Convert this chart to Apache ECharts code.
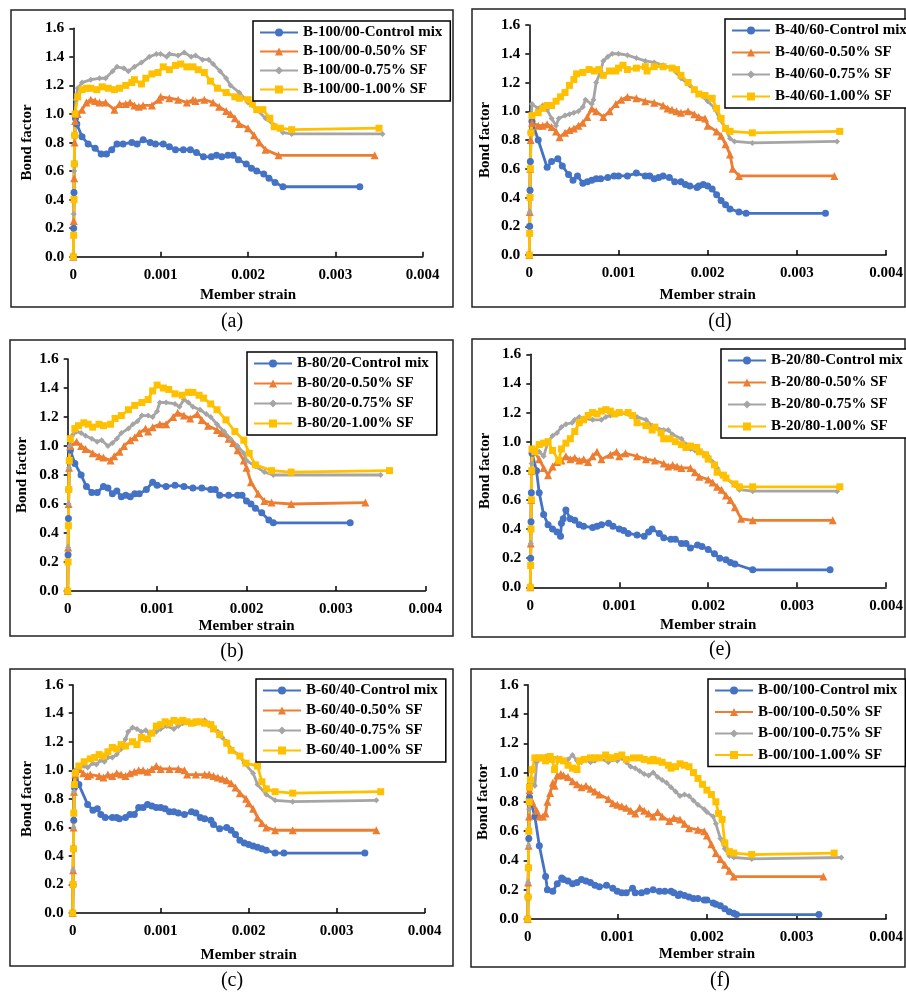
<!DOCTYPE html>
<html>
<head>
<meta charset="utf-8">
<script src="https://cdn.jsdelivr.net/npm/echarts@6/dist/echarts.min.js"></script>
<style>
  html, body { margin: 0; padding: 0; background: #fff; }
  #chart { width: 906px; height: 993px; }
</style>
</head>
<body>
<div id="chart"></div>
<script>
// panel tags and mix names, in panel order a..f
var panelTags = ['(a)', '(b)', '(c)', '(d)', '(e)', '(f)'];
var mixNames = ['B-100/00', 'B-80/20', 'B-60/40', 'B-40/60', 'B-20/80', 'B-00/100'];
var mixSuffix = ['-Control mix', '-0.50% SF', '-0.75% SF', '-1.00% SF'];
var xTicks = [0, 0.001, 0.002, 0.003, 0.004];
var yTicks = [0, 0.2, 0.4, 0.6, 0.8, 1.0, 1.2, 1.4, 1.6];

// (a) B-100/00
var a_ctrl = [[0,0],[0.000004,0.2],[0.000008,0.45],[0.000012,0.65],[0.000018,0.85],[0.000025,0.97],[0.00004,0.93],[0.0001,0.84],[0.00017,0.79],[0.00025,0.76],[0.00032,0.72],[0.00038,0.72],[0.00044,0.75],[0.0005,0.79],[0.00057,0.79],[0.00067,0.80],[0.00073,0.79],[0.0008,0.82],[0.00088,0.80],[0.00094,0.79],[0.00103,0.79],[0.0011,0.77],[0.00117,0.75],[0.00126,0.75],[0.00134,0.75],[0.00141,0.73],[0.00149,0.70],[0.00158,0.70],[0.00164,0.71],[0.0017,0.70],[0.00177,0.71],[0.00183,0.71],[0.00189,0.68],[0.00198,0.65],[0.00204,0.62],[0.0021,0.60],[0.00218,0.58],[0.00224,0.55],[0.00231,0.52],[0.0024,0.49],[0.00328,0.49]];
var a_sf050 = [[0,0],[0.000005,0.25],[0.00001,0.55],[0.000015,0.8],[0.00002,0.95],[0.00005,1.0],[0.0001,1.03],[0.00015,1.08],[0.0002,1.10],[0.00025,1.09],[0.0003,1.08],[0.00037,1.08],[0.00047,1.03],[0.00053,1.07],[0.0006,1.07],[0.00065,1.08],[0.0007,1.06],[0.00075,1.05],[0.0008,1.06],[0.0009,1.06],[0.00098,1.10],[0.001,1.12],[0.0011,1.11],[0.0012,1.10],[0.0013,1.08],[0.00137,1.10],[0.0014,1.09],[0.0015,1.10],[0.0016,1.08],[0.00167,1.05],[0.00175,1.02],[0.0018,1.00],[0.00185,0.97],[0.0019,0.93],[0.002,0.90],[0.00207,0.85],[0.00213,0.80],[0.0022,0.75],[0.00235,0.71],[0.00345,0.71]];
var a_sf075 = [[0,0],[0.000005,0.3],[0.00001,0.6],[0.000015,0.85],[0.00002,1.0],[0.00003,1.1],[0.00005,1.18],[0.0001,1.22],[0.0002,1.24],[0.0003,1.25],[0.00037,1.25],[0.00045,1.30],[0.0005,1.33],[0.00058,1.32],[0.00063,1.30],[0.0007,1.33],[0.00078,1.36],[0.00087,1.40],[0.00095,1.42],[0.001,1.42],[0.00107,1.40],[0.0011,1.42],[0.0012,1.41],[0.00127,1.43],[0.00135,1.40],[0.0014,1.41],[0.00148,1.38],[0.00155,1.38],[0.0016,1.35],[0.00168,1.30],[0.00175,1.25],[0.0018,1.20],[0.0019,1.15],[0.002,1.08],[0.0021,1.03],[0.0022,0.97],[0.0023,0.92],[0.0024,0.87],[0.0025,0.86],[0.00354,0.86]];
var a_sf100 = [[0,0],[0.000004,0.15],[0.000008,0.4],[0.000012,0.65],[0.000016,0.85],[0.00002,1.0],[0.00005,1.12],[0.0001,1.17],[0.00015,1.18],[0.0002,1.18],[0.00027,1.17],[0.00033,1.19],[0.0004,1.18],[0.00047,1.17],[0.00053,1.18],[0.0006,1.20],[0.00067,1.22],[0.0007,1.24],[0.00078,1.21],[0.00083,1.25],[0.0009,1.28],[0.00097,1.29],[0.00103,1.33],[0.0011,1.31],[0.00117,1.34],[0.00123,1.35],[0.0013,1.33],[0.00137,1.33],[0.00143,1.31],[0.0015,1.29],[0.00157,1.23],[0.00165,1.18],[0.00175,1.15],[0.00185,1.12],[0.0019,1.11],[0.002,1.10],[0.00205,1.07],[0.0021,1.03],[0.00217,1.03],[0.00225,0.97],[0.0023,0.91],[0.00237,0.90],[0.0025,0.89],[0.0035,0.90]];

// (b) B-80/20
var b_ctrl = [[0,0],[0.000004,0.25],[0.000008,0.5],[0.000012,0.7],[0.00002,0.9],[0.00003,0.97],[0.00008,0.88],[0.00015,0.80],[0.00021,0.72],[0.00027,0.68],[0.00033,0.68],[0.0004,0.72],[0.00045,0.71],[0.0005,0.67],[0.00055,0.69],[0.0006,0.65],[0.00065,0.66],[0.0007,0.65],[0.00075,0.67],[0.0008,0.67],[0.00088,0.70],[0.00095,0.75],[0.001,0.73],[0.0011,0.72],[0.0012,0.73],[0.0013,0.72],[0.0014,0.71],[0.0015,0.71],[0.0016,0.70],[0.00165,0.70],[0.0017,0.66],[0.0018,0.66],[0.0019,0.66],[0.00195,0.66],[0.002,0.62],[0.00205,0.60],[0.0021,0.57],[0.00217,0.54],[0.00225,0.49],[0.0023,0.47],[0.00316,0.47]];
var b_sf050 = [[0,0],[0.000005,0.3],[0.00001,0.6],[0.000015,0.85],[0.00003,1.0],[0.0001,1.03],[0.00015,1.00],[0.0002,0.98],[0.00028,0.95],[0.00035,0.93],[0.0004,0.92],[0.00048,0.90],[0.00052,0.93],[0.00058,0.96],[0.00063,1.00],[0.0007,1.04],[0.00075,1.06],[0.0008,1.09],[0.00087,1.12],[0.0009,1.10],[0.00095,1.13],[0.00103,1.15],[0.0011,1.15],[0.00118,1.20],[0.00123,1.23],[0.0013,1.21],[0.00137,1.19],[0.00145,1.22],[0.0015,1.18],[0.00157,1.14],[0.00167,1.11],[0.00172,1.09],[0.0018,1.05],[0.00185,1.02],[0.0019,0.97],[0.00197,0.90],[0.002,0.85],[0.00205,0.75],[0.00213,0.67],[0.0022,0.62],[0.00228,0.61],[0.0025,0.60],[0.00333,0.61]];
var b_sf075 = [[0,0],[0.000005,0.3],[0.00001,0.6],[0.000015,0.85],[0.00002,1.0],[0.00005,1.07],[0.0001,1.10],[0.00015,1.09],[0.0002,1.07],[0.00027,1.05],[0.00033,1.03],[0.00038,1.04],[0.00045,1.00],[0.0005,1.02],[0.00055,1.05],[0.0006,1.09],[0.00068,1.12],[0.00073,1.15],[0.00078,1.17],[0.00083,1.21],[0.0009,1.21],[0.00095,1.20],[0.001,1.24],[0.00103,1.30],[0.0011,1.30],[0.0012,1.29],[0.00125,1.27],[0.0013,1.32],[0.00135,1.30],[0.0014,1.27],[0.00148,1.25],[0.00155,1.22],[0.0016,1.20],[0.00167,1.15],[0.00175,1.10],[0.00182,1.05],[0.0019,1.00],[0.00197,0.95],[0.002,0.90],[0.0021,0.86],[0.0022,0.82],[0.0023,0.80],[0.0035,0.80]];
var b_sf100 = [[0,0],[0.000004,0.2],[0.000008,0.45],[0.000012,0.7],[0.000018,0.9],[0.00003,1.05],[0.00008,1.12],[0.00012,1.14],[0.00018,1.16],[0.00023,1.15],[0.00028,1.13],[0.00035,1.15],[0.0004,1.14],[0.00048,1.15],[0.00053,1.19],[0.0006,1.21],[0.00068,1.25],[0.00075,1.28],[0.00083,1.30],[0.0009,1.32],[0.00095,1.38],[0.001,1.42],[0.00107,1.40],[0.00113,1.39],[0.0012,1.36],[0.00128,1.35],[0.00135,1.37],[0.0014,1.37],[0.00147,1.35],[0.00152,1.33],[0.0016,1.29],[0.00167,1.25],[0.00177,1.18],[0.00187,1.10],[0.00197,1.04],[0.00203,0.95],[0.0021,0.87],[0.00228,0.83],[0.0025,0.82],[0.0036,0.83]];

// (c) B-60/40
var c_ctrl = [[0,0],[0.000004,0.2],[0.000008,0.45],[0.000012,0.65],[0.00002,0.88],[0.00003,0.98],[0.00007,0.90],[0.00017,0.76],[0.00023,0.72],[0.00028,0.73],[0.00032,0.69],[0.00037,0.67],[0.00045,0.67],[0.0005,0.67],[0.00053,0.66],[0.0006,0.67],[0.00065,0.69],[0.0007,0.69],[0.00075,0.74],[0.0008,0.74],[0.00085,0.76],[0.0009,0.75],[0.00095,0.74],[0.001,0.74],[0.00105,0.73],[0.0011,0.71],[0.00115,0.71],[0.0012,0.70],[0.00127,0.69],[0.00135,0.71],[0.0014,0.70],[0.00145,0.67],[0.0015,0.66],[0.00157,0.65],[0.0016,0.62],[0.00167,0.59],[0.00175,0.60],[0.0018,0.58],[0.00185,0.55],[0.0019,0.51],[0.00195,0.49],[0.002,0.48],[0.00205,0.47],[0.0021,0.46],[0.00215,0.45],[0.0022,0.44],[0.0023,0.42],[0.0024,0.42],[0.00332,0.42]];
var c_sf050 = [[0,0],[0.000005,0.3],[0.00001,0.6],[0.000015,0.85],[0.00003,0.97],[0.00007,1.01],[0.00012,0.98],[0.00017,0.96],[0.0002,0.97],[0.0003,0.96],[0.00035,0.95],[0.0004,0.97],[0.00045,0.96],[0.0005,0.98],[0.00055,0.97],[0.0006,0.96],[0.00065,0.98],[0.0007,0.99],[0.00075,1.00],[0.0008,1.00],[0.00085,0.99],[0.0009,1.01],[0.00095,1.03],[0.001,1.01],[0.0011,1.01],[0.0012,1.01],[0.00127,1.00],[0.0013,0.97],[0.0014,0.97],[0.0015,0.97],[0.00155,0.97],[0.0016,0.96],[0.00165,0.95],[0.0017,0.94],[0.00175,0.93],[0.0018,0.91],[0.00185,0.88],[0.0019,0.84],[0.00197,0.80],[0.002,0.77],[0.00205,0.73],[0.0021,0.67],[0.00215,0.63],[0.0022,0.60],[0.0023,0.58],[0.0025,0.58],[0.00345,0.58]];
var c_sf075 = [[0,0],[0.000005,0.3],[0.00001,0.6],[0.000015,0.85],[0.00003,1.0],[0.00008,1.02],[0.00013,1.03],[0.00017,1.02],[0.00023,1.05],[0.00027,1.04],[0.00032,1.07],[0.00036,1.06],[0.0004,1.09],[0.00045,1.09],[0.0005,1.11],[0.00055,1.15],[0.0006,1.22],[0.00063,1.27],[0.00068,1.30],[0.00073,1.29],[0.00078,1.27],[0.00083,1.28],[0.00088,1.25],[0.00095,1.27],[0.001,1.29],[0.00107,1.31],[0.00115,1.29],[0.0012,1.31],[0.00125,1.33],[0.0013,1.34],[0.0014,1.33],[0.0015,1.35],[0.00155,1.33],[0.0016,1.30],[0.00165,1.27],[0.0017,1.23],[0.00175,1.20],[0.0018,1.15],[0.0019,1.10],[0.00195,1.05],[0.00205,0.98],[0.0021,0.90],[0.0022,0.83],[0.0023,0.79],[0.0025,0.78],[0.00345,0.79]];
var c_sf100 = [[0,0],[0.000004,0.2],[0.000008,0.45],[0.000012,0.7],[0.00002,0.9],[0.00003,0.98],[0.00007,1.03],[0.00013,1.06],[0.0002,1.08],[0.00025,1.09],[0.0003,1.11],[0.00035,1.10],[0.0004,1.13],[0.00045,1.16],[0.0005,1.15],[0.00055,1.18],[0.0006,1.17],[0.00068,1.20],[0.00073,1.18],[0.00078,1.23],[0.00085,1.22],[0.0009,1.26],[0.00095,1.31],[0.001,1.32],[0.00105,1.34],[0.0011,1.33],[0.00115,1.35],[0.0012,1.34],[0.00125,1.35],[0.0013,1.34],[0.00135,1.33],[0.0014,1.34],[0.00145,1.34],[0.0015,1.33],[0.00157,1.32],[0.0016,1.29],[0.00167,1.25],[0.00175,1.19],[0.0018,1.14],[0.0019,1.10],[0.00197,1.05],[0.0021,1.03],[0.00215,0.92],[0.0022,0.87],[0.0023,0.85],[0.0025,0.84],[0.0035,0.85]];

// (d) B-40/60
var d_ctrl = [[0,0],[0.000004,0.2],[0.000008,0.45],[0.000012,0.65],[0.00002,0.85],[0.00003,0.93],[0.0001,0.80],[0.0002,0.61],[0.00025,0.65],[0.00032,0.67],[0.00037,0.62],[0.00044,0.56],[0.00049,0.52],[0.00054,0.55],[0.0006,0.50],[0.00065,0.51],[0.0007,0.52],[0.00075,0.53],[0.0008,0.53],[0.00088,0.54],[0.00095,0.55],[0.001,0.55],[0.0011,0.55],[0.0012,0.57],[0.0013,0.55],[0.00135,0.55],[0.0014,0.53],[0.00145,0.54],[0.0015,0.55],[0.00157,0.54],[0.00163,0.51],[0.0017,0.51],[0.00175,0.49],[0.0018,0.48],[0.00188,0.47],[0.0019,0.48],[0.00195,0.49],[0.002,0.48],[0.00205,0.46],[0.0021,0.42],[0.00215,0.38],[0.0022,0.35],[0.00225,0.32],[0.00235,0.30],[0.00243,0.29],[0.00332,0.29]];
var d_sf050 = [[0,0],[0.000005,0.3],[0.00001,0.6],[0.000015,0.8],[0.00003,0.92],[0.0001,0.90],[0.00015,0.90],[0.0002,0.91],[0.00025,0.89],[0.0003,0.86],[0.00034,0.82],[0.0004,0.85],[0.00045,0.87],[0.0005,0.88],[0.00055,0.90],[0.0006,0.92],[0.00065,0.96],[0.0007,1.02],[0.00075,1.00],[0.00083,0.96],[0.0009,1.00],[0.00097,1.05],[0.00103,1.08],[0.0011,1.10],[0.0012,1.09],[0.0013,1.07],[0.0014,1.06],[0.0015,1.04],[0.00155,1.02],[0.0016,1.01],[0.00165,1.00],[0.0017,0.99],[0.00178,1.00],[0.00185,0.98],[0.0019,0.96],[0.00197,0.95],[0.002,0.90],[0.0021,0.86],[0.00215,0.83],[0.0022,0.77],[0.00225,0.70],[0.00228,0.60],[0.00235,0.55],[0.00342,0.55]];
var d_sf075 = [[0,0],[0.000005,0.3],[0.00001,0.6],[0.000015,0.85],[0.00003,1.05],[0.0001,1.02],[0.00015,1.04],[0.0002,1.01],[0.00025,0.95],[0.0003,0.90],[0.00033,0.95],[0.0004,0.97],[0.00045,0.98],[0.0005,0.99],[0.00055,1.00],[0.0006,1.03],[0.00063,1.08],[0.0007,1.05],[0.00072,1.08],[0.00075,1.20],[0.0008,1.28],[0.00083,1.35],[0.00088,1.38],[0.00093,1.40],[0.001,1.40],[0.0011,1.39],[0.0012,1.37],[0.0013,1.35],[0.0014,1.34],[0.0015,1.32],[0.0016,1.30],[0.00165,1.27],[0.0017,1.23],[0.0018,1.18],[0.0019,1.12],[0.002,1.07],[0.00208,1.02],[0.00213,0.95],[0.0022,0.88],[0.00225,0.81],[0.0023,0.79],[0.0025,0.78],[0.00345,0.79]];
var d_sf100 = [[0,0],[0.000004,0.15],[0.000008,0.4],[0.000012,0.6],[0.00002,0.85],[0.00003,0.97],[0.0001,0.99],[0.00015,1.02],[0.0002,1.04],[0.00025,1.04],[0.0003,1.07],[0.00035,1.10],[0.0004,1.13],[0.00045,1.18],[0.0005,1.22],[0.00053,1.26],[0.0006,1.27],[0.00067,1.29],[0.00073,1.28],[0.00078,1.29],[0.00083,1.25],[0.0009,1.28],[0.00097,1.28],[0.001,1.30],[0.00105,1.32],[0.0011,1.29],[0.0012,1.30],[0.0013,1.31],[0.00132,1.28],[0.0014,1.31],[0.0015,1.31],[0.0016,1.30],[0.00165,1.29],[0.0017,1.25],[0.00178,1.20],[0.00185,1.15],[0.0019,1.12],[0.00197,1.11],[0.00205,1.09],[0.0021,1.02],[0.00215,0.95],[0.0022,0.88],[0.00225,0.86],[0.0025,0.85],[0.00348,0.86]];

// (e) B-20/80
var e_ctrl = [[0,0],[0.000004,0.2],[0.000008,0.45],[0.000012,0.65],[0.00002,0.92],[0.00007,0.80],[0.0001,0.65],[0.00015,0.50],[0.0002,0.43],[0.00025,0.40],[0.0003,0.38],[0.00034,0.35],[0.00035,0.44],[0.00037,0.47],[0.0004,0.53],[0.00045,0.47],[0.0005,0.46],[0.00055,0.43],[0.0006,0.42],[0.0007,0.41],[0.00075,0.42],[0.0008,0.43],[0.00088,0.44],[0.00093,0.42],[0.001,0.40],[0.00105,0.39],[0.0011,0.37],[0.0012,0.36],[0.00128,0.35],[0.00133,0.38],[0.00137,0.40],[0.00145,0.37],[0.0015,0.34],[0.00158,0.33],[0.00163,0.33],[0.0017,0.30],[0.00175,0.30],[0.0018,0.27],[0.00188,0.29],[0.00193,0.28],[0.002,0.26],[0.00207,0.23],[0.00213,0.20],[0.0022,0.19],[0.00225,0.17],[0.0023,0.16],[0.0025,0.12],[0.00337,0.12]];
var e_sf050 = [[0,0],[0.000005,0.3],[0.00001,0.6],[0.000015,0.8],[0.00003,0.95],[0.0001,0.88],[0.00015,0.82],[0.0002,0.77],[0.00025,0.83],[0.0003,0.86],[0.00035,0.87],[0.0004,0.90],[0.00045,0.88],[0.0005,0.89],[0.00055,0.87],[0.0006,0.88],[0.00065,0.86],[0.0007,0.90],[0.00075,0.93],[0.0008,0.88],[0.0009,0.91],[0.00097,0.93],[0.001,0.90],[0.00107,0.92],[0.0012,0.90],[0.0013,0.88],[0.0014,0.87],[0.0015,0.85],[0.00155,0.83],[0.0016,0.84],[0.00165,0.83],[0.0017,0.82],[0.0018,0.82],[0.00185,0.79],[0.0019,0.76],[0.002,0.74],[0.00205,0.72],[0.0021,0.69],[0.00215,0.67],[0.0022,0.63],[0.00225,0.60],[0.0023,0.55],[0.00237,0.47],[0.0025,0.46],[0.0034,0.46]];
var e_sf075 = [[0,0],[0.000005,0.3],[0.00001,0.6],[0.000015,0.85],[0.00003,0.95],[0.0001,0.93],[0.00015,0.90],[0.0002,1.00],[0.00025,1.04],[0.0003,1.06],[0.00035,1.10],[0.0004,1.12],[0.00047,1.13],[0.0005,1.15],[0.00055,1.17],[0.0006,1.16],[0.0007,1.15],[0.0008,1.15],[0.00085,1.17],[0.0009,1.18],[0.001,1.20],[0.0011,1.19],[0.0012,1.17],[0.0013,1.15],[0.00137,1.11],[0.0014,1.10],[0.0015,1.08],[0.00155,1.08],[0.0016,1.05],[0.0017,1.02],[0.00175,0.98],[0.0018,0.95],[0.00185,0.94],[0.0019,0.94],[0.00195,0.92],[0.002,0.90],[0.00205,0.86],[0.0021,0.82],[0.00215,0.77],[0.0022,0.75],[0.0023,0.70],[0.00235,0.67],[0.0025,0.66],[0.00345,0.66]];
var e_sf100 = [[0,0],[0.000004,0.15],[0.000008,0.4],[0.000012,0.6],[0.000016,0.8],[0.00002,0.95],[0.00005,0.93],[0.0001,0.98],[0.00015,0.99],[0.0002,1.00],[0.00025,0.94],[0.00032,0.87],[0.00035,0.95],[0.0004,0.99],[0.00045,1.02],[0.0005,1.07],[0.00055,1.13],[0.0006,1.15],[0.00065,1.18],[0.0007,1.20],[0.00075,1.19],[0.0008,1.21],[0.00085,1.22],[0.0009,1.21],[0.00095,1.19],[0.001,1.20],[0.0011,1.20],[0.00115,1.18],[0.0012,1.13],[0.0013,1.11],[0.00137,1.08],[0.0014,1.10],[0.00147,1.06],[0.0015,1.02],[0.00157,1.02],[0.00163,1.00],[0.0017,0.98],[0.00175,0.96],[0.0018,0.97],[0.00187,0.96],[0.0019,0.93],[0.00197,0.91],[0.002,0.88],[0.00207,0.84],[0.0021,0.79],[0.00217,0.77],[0.0022,0.75],[0.0023,0.71],[0.00235,0.69],[0.0025,0.69],[0.00348,0.69]];

// (f) B-00/100
var f_ctrl = [[0,0],[0.000004,0.15],[0.000008,0.35],[0.000012,0.55],[0.00002,0.83],[0.00008,0.70],[0.00013,0.50],[0.0002,0.29],[0.00022,0.20],[0.00028,0.19],[0.00033,0.24],[0.00038,0.28],[0.0004,0.27],[0.00045,0.26],[0.0005,0.24],[0.00055,0.25],[0.0006,0.27],[0.00065,0.26],[0.0007,0.25],[0.00075,0.23],[0.0008,0.22],[0.00088,0.23],[0.00095,0.21],[0.001,0.19],[0.00105,0.18],[0.0011,0.18],[0.00117,0.21],[0.0012,0.18],[0.00127,0.18],[0.00133,0.19],[0.0014,0.20],[0.00147,0.19],[0.00153,0.19],[0.0016,0.19],[0.00163,0.18],[0.00168,0.16],[0.0017,0.17],[0.00175,0.16],[0.0018,0.15],[0.00185,0.14],[0.0019,0.14],[0.00197,0.13],[0.002,0.13],[0.00207,0.11],[0.0021,0.10],[0.00215,0.09],[0.0022,0.07],[0.00225,0.05],[0.0023,0.04],[0.00233,0.03],[0.00325,0.03]];
var f_sf050 = [[0,0],[0.000005,0.25],[0.00001,0.5],[0.000015,0.7],[0.00002,0.88],[0.00005,0.80],[0.0001,0.74],[0.00013,0.70],[0.00017,0.70],[0.0002,0.72],[0.00022,0.80],[0.00025,0.86],[0.00028,0.93],[0.0003,0.91],[0.00033,0.98],[0.00037,0.99],[0.0004,0.98],[0.00045,0.97],[0.0005,0.94],[0.00055,0.92],[0.0006,0.90],[0.00065,0.91],[0.0007,0.89],[0.00075,0.87],[0.0008,0.85],[0.0009,0.82],[0.00095,0.79],[0.001,0.78],[0.00105,0.77],[0.0011,0.76],[0.00115,0.74],[0.0012,0.72],[0.00125,0.76],[0.0013,0.74],[0.00135,0.72],[0.0014,0.70],[0.00145,0.73],[0.0015,0.70],[0.00158,0.67],[0.00163,0.69],[0.0017,0.68],[0.00175,0.65],[0.0018,0.62],[0.0019,0.61],[0.00197,0.60],[0.002,0.57],[0.00205,0.51],[0.0021,0.45],[0.00215,0.41],[0.0022,0.37],[0.00225,0.33],[0.0023,0.29],[0.0033,0.29]];
var f_sf075 = [[0,0],[0.000005,0.25],[0.00001,0.5],[0.000015,0.75],[0.00003,0.93],[0.00008,0.91],[0.0001,1.07],[0.00015,1.10],[0.0002,1.11],[0.00027,1.10],[0.00033,1.10],[0.0004,1.08],[0.00045,1.09],[0.0005,1.12],[0.00055,1.08],[0.0006,1.07],[0.00065,1.09],[0.0007,1.07],[0.00075,1.08],[0.0008,1.10],[0.0009,1.07],[0.00095,1.09],[0.001,1.08],[0.00105,1.10],[0.0011,1.07],[0.00115,1.04],[0.0012,1.03],[0.00125,1.01],[0.0013,0.99],[0.00135,0.98],[0.0014,1.00],[0.00145,0.97],[0.0015,0.95],[0.00155,0.93],[0.0016,0.90],[0.00165,0.87],[0.0017,0.84],[0.00175,0.85],[0.0018,0.84],[0.00185,0.81],[0.0019,0.78],[0.00197,0.75],[0.002,0.73],[0.00207,0.70],[0.0021,0.65],[0.00215,0.55],[0.0022,0.48],[0.00225,0.43],[0.0023,0.42],[0.0025,0.41],[0.0035,0.42]];
var f_sf100 = [[0,0],[0.000004,0.15],[0.000008,0.35],[0.000012,0.6],[0.000016,0.8],[0.00002,0.90],[0.00003,0.95],[0.00005,1.02],[0.00008,1.10],[0.00013,1.10],[0.00017,1.10],[0.0002,1.08],[0.00025,1.11],[0.00027,1.09],[0.0003,1.02],[0.00035,1.09],[0.0004,1.08],[0.00045,1.05],[0.0005,1.03],[0.00055,1.02],[0.00058,1.08],[0.00063,1.09],[0.0007,1.10],[0.00075,1.10],[0.0008,1.10],[0.00087,1.12],[0.0009,1.10],[0.00095,1.10],[0.001,1.11],[0.00105,1.12],[0.0011,1.09],[0.00118,1.10],[0.00125,1.10],[0.0013,1.09],[0.00137,1.08],[0.0014,1.09],[0.00145,1.08],[0.0015,1.07],[0.00157,1.05],[0.0016,1.03],[0.00165,1.04],[0.0017,1.06],[0.00175,1.05],[0.0018,1.04],[0.00185,1.00],[0.0019,0.96],[0.00195,0.92],[0.002,0.88],[0.00205,0.85],[0.0021,0.80],[0.00213,0.72],[0.00217,0.68],[0.0022,0.52],[0.00225,0.46],[0.0023,0.45],[0.0025,0.44],[0.00342,0.45]];

var panelData = [
    [a_ctrl, a_sf050, a_sf075, a_sf100],
    [b_ctrl, b_sf050, b_sf075, b_sf100],
    [c_ctrl, c_sf050, c_sf075, c_sf100],
    [d_ctrl, d_sf050, d_sf075, d_sf100],
    [e_ctrl, e_sf050, e_sf075, e_sf100],
    [f_ctrl, f_sf050, f_sf075, f_sf100]
];

// layout of each panel (plot area, frame, legend, tag)
var layout = [
    { grid: [73.3, 28.3, 349.4, 228.4], frame: [11, 10, 442, 297], legend: [253, 21], gap: 4, gapY: 39, gapX: 31, tag: [232, 322] },
    { grid: [67.7, 359, 357.6, 232], frame: [10, 340, 443, 296], legend: [247, 352], gap: 5, gapY: 38, gapX: 28, tag: [232, 652] },
    { grid: [72.7, 684.7, 352, 228.3], frame: [10, 669, 443, 297], legend: [256, 679], gap: 5, gapY: 38, gapX: 35, tag: [232, 981] },
    { grid: [529.3, 25, 357.4, 230], frame: [472, 9, 433, 298], legend: [725, 19], gap: 7, gapY: 37, gapX: 33, tag: [720, 322] },
    { grid: [530.3, 354.3, 356.4, 233], frame: [472, 339, 433, 298], legend: [721, 349], gap: 7, gapY: 38, gapX: 30, tag: [720, 650] },
    { grid: [527.7, 684.7, 359, 234.3], frame: [471, 669, 434, 298], legend: [708, 679], gap: 6.5, gapY: 37, gapX: 28, tag: [720, 981] }
];

var colors = ['#4472C4', '#ED7D31', '#A5A5A5', '#FFC000'];
var symbols = ['circle', 'triangle', 'diamond', 'rect'];
var symbolSizes = [7, 8, 6, 7];
var font = 'Liberation Serif';

var chart = echarts.init(document.getElementById('chart'));
var grids = [], xAxes = [], yAxes = [], series = [], legends = [], graphics = [];

layout.forEach(function (L, p) {
    grids.push({ left: L.grid[0], top: L.grid[1], width: L.grid[2], height: L.grid[3], containLabel: false });
    xAxes.push({
        type: 'value', gridIndex: p, min: 0, max: 0.004, interval: 0.001,
        name: 'Member strain', nameLocation: 'middle', nameGap: L.gapX,
        nameTextStyle: { fontFamily: font, fontWeight: 'bold', fontSize: 15, color: '#000' },
        axisLine: { onZero: false, lineStyle: { color: '#000', width: 1.5 } },
        axisTick: { inside: true, length: 5, lineStyle: { color: '#000', width: 1.5 } },
        splitLine: { show: false },
        axisLabel: {
            fontFamily: font, fontWeight: 'bold', fontSize: 15, color: '#000', margin: 11,
            formatter: function (v) { return v === 0 ? '0' : v.toFixed(3); }
        }
    });
    yAxes.push({
        type: 'value', gridIndex: p, min: 0, max: 1.6, interval: 0.2,
        name: 'Bond factor', nameLocation: 'middle', nameGap: L.gapY, nameRotate: 90,
        nameTextStyle: { fontFamily: font, fontWeight: 'bold', fontSize: 15, color: '#000' },
        axisLine: { show: true, lineStyle: { color: '#000', width: 1.5 } },
        axisTick: { show: true, length: 4, lineStyle: { color: '#000', width: 1.5 } },
        splitLine: { show: false },
        axisLabel: {
            fontFamily: font, fontWeight: 'bold', fontSize: 15.5, color: '#000', margin: 9,
            formatter: function (v) { return v.toFixed(1); }
        }
    });
    var names = [];
    panelData[p].forEach(function (d, k) {
        var nm = mixNames[p] + mixSuffix[k];
        names.push(nm);
        series.push({
            type: 'line', name: nm, xAxisIndex: p, yAxisIndex: p, data: d,
            symbol: symbols[k], symbolSize: symbolSizes[k], showAllSymbol: true,
            lineStyle: { color: colors[k], width: 2.8 },
            itemStyle: { color: colors[k] },
            animation: false
        });
    });
    legends.push({
        data: names, orient: 'vertical', left: L.legend[0], top: L.legend[1],
        itemWidth: 38, itemHeight: 10, itemGap: L.gap,
        padding: [4, 8, 4, 6], borderColor: '#000', borderWidth: 1.5, backgroundColor: '#fff',
        textStyle: { fontFamily: font, fontWeight: 'bold', fontSize: 15, color: '#000' },
        selectedMode: false
    });
    graphics.push({
        type: 'rect', shape: { x: L.frame[0], y: L.frame[1], width: L.frame[2], height: L.frame[3] },
        style: { fill: 'none', stroke: '#222', lineWidth: 1.5 }, z: -1
    });
    graphics.push({
        type: 'text', x: L.tag[0], y: L.tag[1],
        style: { text: panelTags[p], fontFamily: font, fontSize: 20, fill: '#000', textAlign: 'center', textVerticalAlign: 'middle' }
    });
});

chart.setOption({
    animation: false,
    backgroundColor: '#fff',
    grid: grids,
    xAxis: xAxes,
    yAxis: yAxes,
    legend: legends,
    series: series,
    graphic: graphics
});
</script>
</body>
</html>
